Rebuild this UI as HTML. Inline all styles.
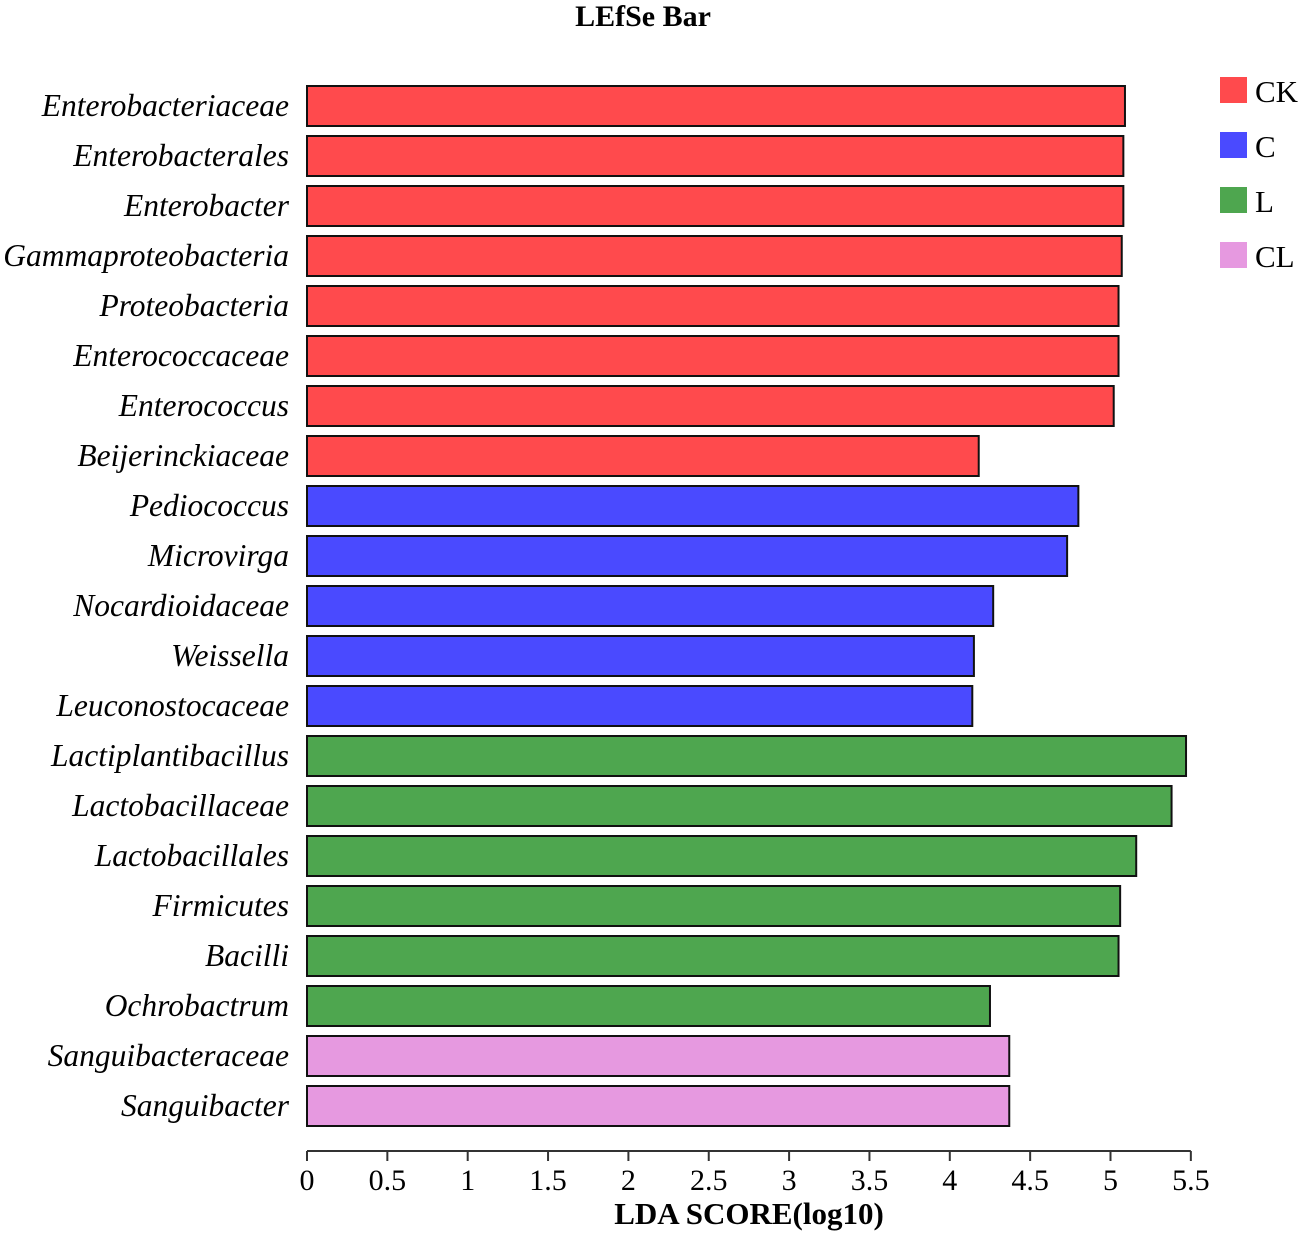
<!DOCTYPE html>
<html><head><meta charset="utf-8"><style>
body{margin:0;background:#fff;}
svg{display:block;font-family:"Liberation Serif",serif;}
</style></head><body>
<svg id="chart" width="1305" height="1234" viewBox="0 0 1305 1234">
<text x="643" y="26" font-size="30" font-weight="bold" text-anchor="middle">LEfSe Bar</text>
<g id="bars"></g>
<g id="labels"></g>
<g id="axis"></g>
<text x="749" y="1224" font-size="31" font-weight="bold" text-anchor="middle">LDA SCORE(log10)</text>
<g id="legend"></g>
</svg>
<script>
const taxa=["Enterobacteriaceae","Enterobacterales","Enterobacter","Gammaproteobacteria","Proteobacteria","Enterococcaceae","Enterococcus","Beijerinckiaceae","Pediococcus","Microvirga","Nocardioidaceae","Weissella","Leuconostocaceae","Lactiplantibacillus","Lactobacillaceae","Lactobacillales","Firmicutes","Bacilli","Ochrobactrum","Sanguibacteraceae","Sanguibacter"];
const scores=[5.09,5.08,5.08,5.07,5.05,5.05,5.02,4.18,4.80,4.73,4.27,4.15,4.14,5.47,5.38,5.16,5.06,5.05,4.25,4.37,4.37];
const groups=["CK","CK","CK","CK","CK","CK","CK","CK","C","C","C","C","C","L","L","L","L","L","L","CL","CL"];
const groupNames=["CK","C","L","CL"];
const groupColors=["#ff4a4d","#4a4aff","#4ea64f","#e699e0"];
const ticks=[0,0.5,1,1.5,2,2.5,3,3.5,4,4.5,5,5.5];
const NS="http://www.w3.org/2000/svg";
const x0=307,pxPer=160.7,yTop=86,pitch=50,barH=40,axisY=1151;
const xs=v=>x0+v*pxPer;
const ys=i=>yTop+i*pitch;
function mk(t,a,p){const e=document.createElementNS(NS,t);for(const k in a)e.setAttribute(k,a[k]);p.appendChild(e);return e;}
const gb=document.getElementById('bars'),gl=document.getElementById('labels'),ga=document.getElementById('axis'),gg=document.getElementById('legend');
taxa.forEach((t,i)=>{
 const r=mk('rect',{x:xs(0),y:ys(i),width:xs(scores[i])-xs(0),height:barH,fill:groupColors[groupNames.indexOf(groups[i])],stroke:'#111','stroke-width':2},gb);
 
 
 const tx=mk('text',{x:289,y:ys(i)+barH/2+10,'font-size':31.5,'font-style':'italic','text-anchor':'end'},gl);
 tx.textContent=t;
 
 
});
const al=mk('line',{x1:xs(0),x2:xs(5.5),y1:axisY,y2:axisY,stroke:'#333','stroke-width':2},ga);


ticks.forEach(v=>{
 const l=mk('line',{x1:xs(v),x2:xs(v),y1:axisY,y2:axisY+10,stroke:'#333','stroke-width':2},ga);
 
 
 const t=mk('text',{x:xs(v),y:1190,'font-size':30,'text-anchor':'middle'},ga);
 t.textContent=String(v);
 
 
});
groupNames.forEach((g,i)=>{
 const r=mk('rect',{x:1220,y:77+i*55,width:27,height:26,fill:groupColors[i]},gg);
 
 
 const t=mk('text',{x:1255,y:102+i*55,'font-size':31},gg);
 t.textContent=g;
 
 
});
</script>
</body></html>
